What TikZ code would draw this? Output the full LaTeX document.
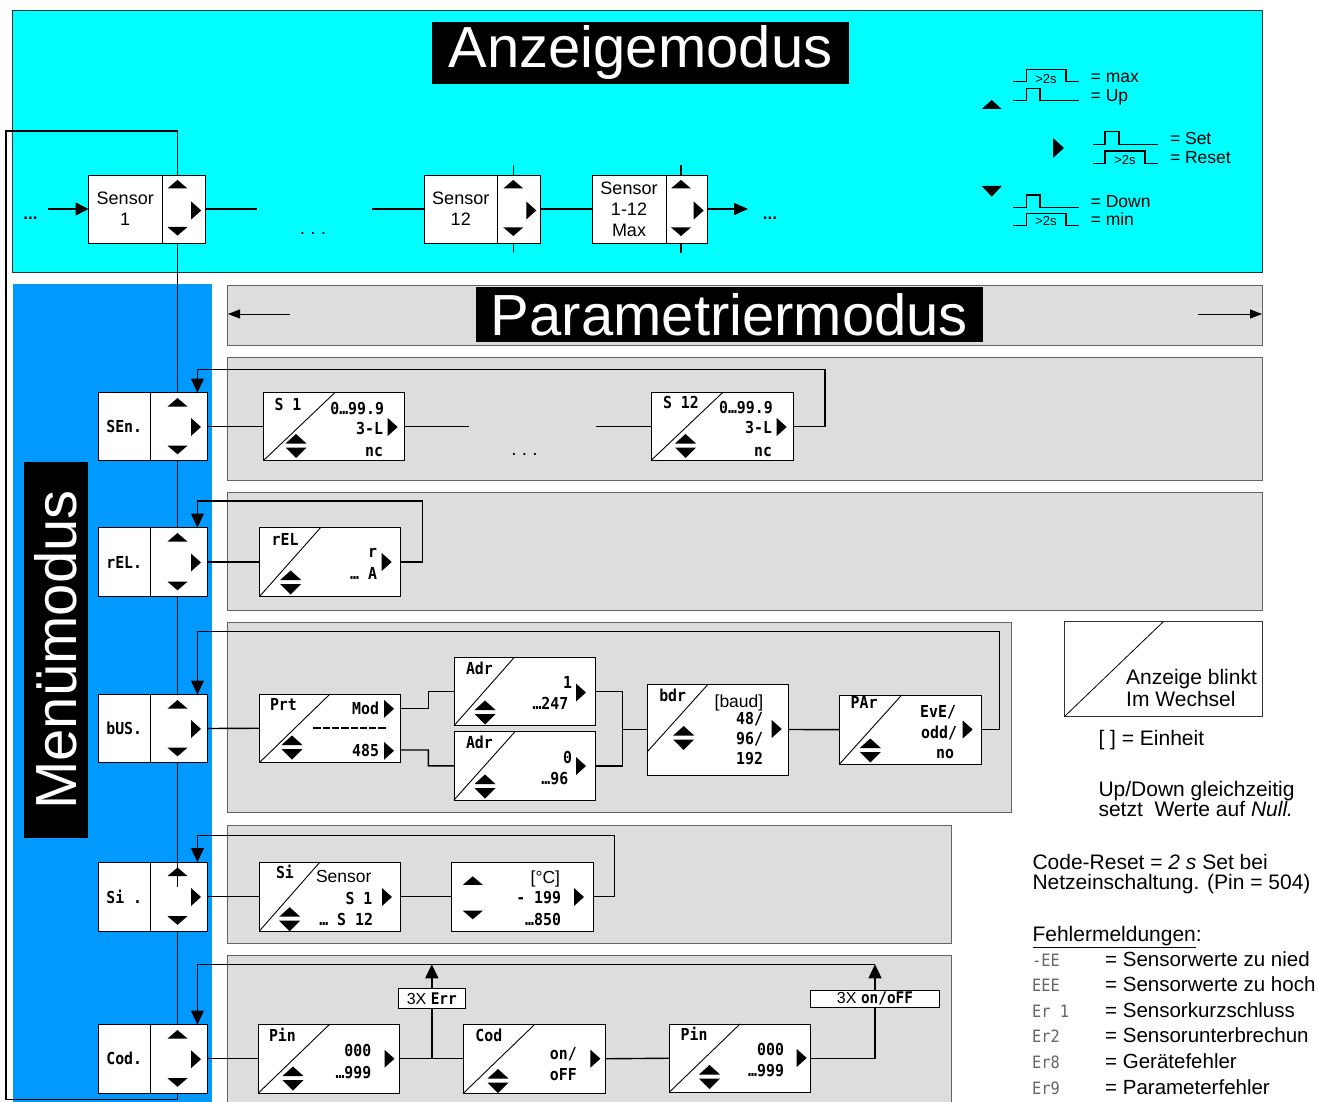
\documentclass[tikz,border=0pt]{standalone}
\usepackage{fontspec}
\setmainfont{Liberation Sans}
\newfontfamily\segf[FakeStretch=0.9]{DejaVu Sans Mono}
\usetikzlibrary{arrows.meta}
\definecolor{cyanbg}{RGB}{0,255,255}
\definecolor{bluebg}{RGB}{0,153,255}
\definecolor{graybg}{RGB}{221,221,221}
\definecolor{panelline}{RGB}{100,100,100}
\newcounter{tn}
\tikzset{
  box/.style={draw=black, line width=0.9pt, fill=white, inner sep=0pt, outer sep=0pt},
  conn/.style={line width=1.4pt},
  arrA/.style={-{Triangle[length=14pt,width=13pt]}},
  arrB/.style={-{Triangle[length=14pt,width=12pt]}},
  arrC/.style={-{Triangle[length=12pt,width=9pt]}},
  seg/.style={font=\segf\bfseries\fontsize{16.5}{16.5}\selectfont, inner sep=0pt, outer sep=0pt},
  txt/.style={font=\fontsize{17.5}{18}\selectfont, inner sep=0pt, outer sep=0pt},
  note/.style={font=\fontsize{21}{22}\selectfont, inner sep=0pt, anchor=base west},
  errt/.style={font=\fontsize{20.5}{22}\selectfont, inner sep=0pt, anchor=base west},
  errc/.style={font=\segf\fontsize{17}{17}\selectfont, text=black!60, inner sep=0pt, anchor=base west},
  panel/.style={fill=graybg, draw=panelline, line width=0.8pt},
  title/.style={fill=black, text=white, font=\fontsize{58}{60}\selectfont, inner sep=0pt},
  tup/.pic={\fill (-10,4.3) -- (10,4.3) -- (0,-4.3) -- cycle;},
  tdown/.pic={\fill (-10,-4.3) -- (10,-4.3) -- (0,4.3) -- cycle;},
  tright/.pic={\fill (-5,-9) -- (-5,9) -- (5,0) -- cycle;},
  tdbl/.pic={\fill (-10.5,-2) -- (10.5,-2) -- (0,-11.5) -- cycle; \fill (-10.5,2) -- (10.5,2) -- (0,12.5) -- cycle;},
}
\newcommand\bx[7][]{\node[box,minimum width={#5-#3},minimum height={#6-#4},#1] (#2) at ({(#3+#5)/2},{(#4+#6)/2}) {#7};}
\newcommand\pbx[6]{\bx{#1}{#2}{#3}{#4}{#5}{}\draw[line width=0.9pt] (#1.south west) -- (#6,#3);}
\newcommand\sg[3][base east]{\stepcounter{tn}\node[seg,anchor=#1] (tx\arabic{tn}) at (#2) {#3};}
\newcommand\tx[3][base west]{\stepcounter{tn}\node[txt,anchor=#1] (tx\arabic{tn}) at (#2) {#3};}
\newcommand\nt[2]{\stepcounter{tn}\node[note] (tx\arabic{tn}) at (#1) {#2};}
\newcommand\mbx[4]{%
  \bx[seg]{#1}{98.5}{#2}{150}{#3}{#4}%
  \bx{#1k}{150}{#2}{207.5}{#3}{}%
  \pic at (177.5,{#2+9.8}) {tup};%
  \pic at (196,{(#2+#3)/2+0.5}) {tright};%
  \pic at (177.5,{#3-10.5}) {tdown};}
\begin{document}
\begin{tikzpicture}[x=1pt,y=-1pt]
\useasboundingbox (0,0) rectangle (1318,1102);
\fill[white] (0,0) rectangle (1318,1102);
\begin{scope}
\clip (0,0) rectangle (1318,1102);
% ---------- top panel
\draw[fill=cyanbg,draw=black!80,line width=0.8pt] (12,10) rectangle (1262,272);
\node[title,minimum width=417,minimum height=62] (anz) at (640.5,53) {Anzeigemodus};
% legend
\fill (981.7,109) -- (1001.7,109) -- (991.7,100) -- cycle;
\fill (1053,138) -- (1053,158) -- (1064,148) -- cycle;
\fill (981.7,186) -- (1001.7,186) -- (991.7,196.7) -- cycle;
\begin{scope}[line width=1.2pt]
\draw (1013,81.7) -- (1026.7,81.7) -- (1026.7,69.7) -- (1066,69.7) -- (1066,81.7) -- (1078.7,81.7);
\draw (1013,100.7) -- (1026.7,100.7) -- (1026.7,88.3) -- (1040,88.3) -- (1040,100.7) -- (1078.7,100.7);
\draw (1093.3,144.3) -- (1105,144.3) -- (1105,131.7) -- (1119,131.7) -- (1119,144.3) -- (1158.3,144.3);
\draw (1093.3,163.3) -- (1105,163.3) -- (1105,151) -- (1145,151) -- (1145,163.3) -- (1158.3,163.3);
\draw (1013,207.3) -- (1026.7,207.3) -- (1026.7,195) -- (1040,195) -- (1040,207.3) -- (1078.7,207.3);
\draw (1013,225.7) -- (1026.7,225.7) -- (1026.7,213.3) -- (1066,213.3) -- (1066,225.7) -- (1078.7,225.7);
\end{scope}
\node[inner sep=0pt,font=\fontsize{13}{13}\selectfont] (g1) at (1046,79) {>2s};
\node[inner sep=0pt,font=\fontsize{13}{13}\selectfont] (g2) at (1125,160) {>2s};
\node[inner sep=0pt,font=\fontsize{13}{13}\selectfont] (g3) at (1046,221.5) {>2s};
\tx{1090.7,83}{= max}
\tx{1090.7,101.5}{= Up}
\tx{1170,144.5}{= Set}
\tx{1170,163.5}{= Reset}
\tx{1090.7,208}{= Down}
\tx{1090.7,226}{= min}
% sensor row
\node[txt,anchor=base,font=\bfseries\fontsize{17}{17}\selectfont] (dl) at (30.5,219.5) {...};
\node[txt,anchor=base,font=\bfseries\fontsize{17}{17}\selectfont] (dr) at (770,220) {...};
\node[txt,anchor=base,font=\fontsize{19}{19}\selectfont] (dm) at (313,235) {.\ .\ .};
\bx[txt,align=center,font=\fontsize{18}{21}\selectfont]{s1}{88.5}{175}{162}{243}{Sensor\\1}
\bx{s1k}{162}{175}{205}{243}{}
\pic at (177.5,184.2) {tup}; \pic at (196.2,210.5) {tright}; \pic at (177.5,231.3) {tdown};
\bx[txt,align=center,font=\fontsize{18}{21}\selectfont]{s12}{424}{175}{497.5}{243}{Sensor\\12}
\bx{s12k}{497.5}{175}{540.5}{243}{}
\pic at (513.3,184.2) {tup}; \pic at (531.3,210.5) {tright}; \pic at (513.3,231.7) {tdown};
\bx[txt,align=center,font=\fontsize{18}{21}\selectfont]{smax}{592}{175}{666}{243}{Sensor\\1-12\\Max}
\bx{smaxk}{666}{175}{707.5}{243}{}
\pic at (681,184.2) {tup}; \pic at (698.7,210.5) {tright}; \pic at (681,231.7) {tdown};
\coordinate (l0) at (47.5,209);
\coordinate (r1) at (256.5,209);
\coordinate (l12) at (372,209);
\coordinate (rmax) at (748,209);
\draw[conn,-{Triangle[length=13pt,width=13pt]}] (l0) -- (s1.west);
\draw[conn] (s1k.east) -- (r1);
\draw[conn] (l12) -- (s12.west);
\draw[conn] (s12k.east) -- (smax.west);
\draw[conn,arrB] (smaxk.east) -- (rmax);
\coordinate (t12) at (513.3,165); \coordinate (b12) at (513.3,253);
\coordinate (tm) at (681,165); \coordinate (bm) at (681,253);
\draw[conn] (t12) -- (t12 |- s12k.north);
\draw[conn] (b12) -- (b12 |- s12k.south);
\draw[conn] (tm) -- (tm |- smaxk.north);
\draw[conn] (bm) -- (bm |- smaxk.south);
% ---------- lower part
\fill[bluebg] (13,284) rectangle (212,1115);
\node[title,rotate=90,minimum width=376,minimum height=64] (menu) at (56,650) {Menümodus};
\draw[panel] (227,285) rectangle (1262,345);
\node[title,minimum width=507,minimum height=55] (ptitle) at (729.5,314.5) {Parametriermodus};
\coordinate (pl1) at (290,314); \coordinate (pl2) at (228,314);
\coordinate (pr1) at (1198,314); \coordinate (pr2) at (1262,314);
\draw[line width=1pt,arrC] (pl1) -- (pl2);
\draw[line width=1pt,arrC] (pr1) -- (pr2);
\draw[panel] (227,357) rectangle (1262,480);
\draw[panel] (227,492) rectangle (1262,610);
\draw[panel] (227,622) rectangle (1011,812);
\draw[panel] (227,825) rectangle (951,943);
\draw[panel] (227,955) rectangle (951,1115);
% menu boxes
\mbx{msen}{392.5}{460.5}{SEn.}
\mbx{mrel}{527.5}{596.5}{rEL.}
\mbx{mbus}{694.5}{762.5}{bUS.}
\mbx{msi}{862}{931}{Si .}
\mbx{mcod}{1024.5}{1093}{Cod.}
\coordinate (vx) at (177.5,0);
\coordinate (loopx) at (197.4,0);
\coordinate (lpA) at (177.5,1099.5); \coordinate (lpB) at (6,1099.5);
\coordinate (lpC) at (6,131); \coordinate (lpD) at (177.5,131);
\coordinate (siin) at (177.5,887);
\draw[conn] (mcodk.south -| vx) -- (lpA) -- (lpB) -- (lpC) -- (lpD) -- (s1k.north -| vx);
\draw[conn] (s1k.south -| vx) -- (msenk.north -| vx);
\draw[conn] (msenk.south -| vx) -- (mrelk.north -| vx);
\draw[conn] (mrelk.south -| vx) -- (mbusk.north -| vx);
\draw[conn] (mbusk.south -| vx) -- (siin);
\draw[conn] (msik.south -| vx) -- (mcodk.north -| vx);
% SEn row
\pbx{ps1}{263.5}{392.5}{404.5}{460.5}{335}
\sg[base west]{274.5,410}{S 1}
\sg{384,414}{0…99.9}
\sg{383,434}{3-L}
\sg{383,456}{nc}
\pic at (392.7,427) {tright}; \pic at (296,445.5) {tdbl};
\pbx{ps12}{651}{392.5}{793.3}{460.5}{722.7}
\sg[base west]{663,408}{S 12}
\sg{772.7,413}{0…99.9}
\sg{772,433}{3-L}
\sg{772,456}{nc}
\pic at (781.7,427) {tright}; \pic at (685.5,445.5) {tdbl};
\coordinate (c1) at (469.3,426.5); \coordinate (c2) at (596,426.5);
\draw[conn] (msenk.east) -- (ps1.west);
\draw[conn] (ps1.east) -- (c1);
\draw[conn] (c2) -- (ps12.west);
\node[txt,anchor=base,font=\fontsize{19}{19}\selectfont] (dm2) at (524.5,455) {.\ .\ .};
\coordinate (senR) at (825,369.3);
\draw[conn,arrA] (ps12.east) -| (senR) -| (msenk.north -| loopx);
% rEL row
\pbx{prel}{259.5}{527.5}{400.7}{596.5}{320.7}
\sg[base west]{271.7,545.5}{rEL}
\sg{377,557}{r}
\sg{377,579}{… A}
\pic at (386.7,562) {tright}; \pic at (290.7,582) {tdbl};
\draw[conn] (mrelk.east) -- (prel.west);
\coordinate (relR) at (422.3,501);
\draw[conn,arrA] (prel.east) -| (relR) -| (mrelk.north -| loopx);
% bUS row
\pbx{pprt}{259.5}{694}{400.7}{762.5}{330}
\sg[base west]{270,710.5}{Prt}
\sg{379,714.5}{Mod}
\draw[line width=2.2pt,dash pattern=on 7.3pt off 2pt] (313.3,727.7) -- (387.7,727.7);
\sg{379,756}{485}
\pic at (389,708.8) {tright}; \pic at (389,750.8) {tright}; \pic at (292,747) {tdbl};
\pbx{padr1}{454}{657.7}{595}{725.7}{514}
\sg[base west]{466,674}{Adr}
\sg{572,688}{1}
\sg{568.3,709.5}{…247}
\pic at (581,692.5) {tright}; \pic at (485,712) {tdbl};
\pbx{padr2}{454}{731.7}{595}{800}{515}
\sg[base west]{466,748}{Adr}
\sg{572,763}{0}
\sg{568.3,784}{…96}
\pic at (581,766) {tright}; \pic at (485,786) {tdbl};
\bx{pbdr}{647.3}{684}{788.3}{775}{}
\draw[line width=0.9pt] (647.3,751.7) -- (708.3,684);
\sg[base west]{659.3,701.5}{bdr}
\tx[base east]{763.3,707.5}{[baud]}
\sg{763,724.5}{48/}
\sg{763,744.5}{96/}
\sg{763,764.5}{192}
\pic at (776.7,729) {tright}; \pic at (683.7,737.5) {tdbl};
\pbx{ppar}{839.3}{695}{981.7}{764.3}{901.7}
\sg[base west]{850.7,708.5}{PAr}
\sg{956,717}{EvE/}
\sg{957,738.5}{odd/}
\sg{954,758.5}{no}
\pic at (967.7,729.5) {tright}; \pic at (870.3,750) {tdbl};
\draw[conn] (mbusk.east) -- (pprt.west);
\coordinate (pm) at (400.7,708.3); \coordinate (p4) at (400.7,750);
\coordinate (j1) at (428.3,691.7); \coordinate (j2) at (428.3,765.85);
\coordinate (j3) at (622.7,729.5);
\draw[conn] (pm) -| (j1) -- (padr1.west);
\draw[conn] (p4) -| (j2) -- (padr2.west);
\draw[conn] (padr1.east) -| (j3);
\draw[conn] (padr2.east) -| (j3) -- (pbdr.west);
\draw[conn] (pbdr.east) -- (ppar.west);
\coordinate (busR) at (999.3,631.7);
\draw[conn,arrA] (ppar.east) -| (busR) -| (mbusk.north -| loopx);
% Si row
\pbx{psis}{259.4}{862}{400.6}{931}{320}
\sg[base west]{276,878.5}{Si}
\tx{316,882}{Sensor}
\sg{372.4,904}{S 1}
\sg{373,925.7}{… S 12}
\pic at (387,897) {tright}; \pic at (289.7,918.7) {tdbl};
\bx{pdeg}{451.6}{862}{593.4}{931}{}
\pic at (472.8,880.6) {tup}; \pic at (472.8,915) {tdown};
\tx[base east]{560,883}{[°C]}
\sg{561,903.5}{- 199}
\sg{561,925.7}{…850}
\pic at (579,897) {tright};
\draw[conn] (msik.east) -- (psis.west);
\draw[conn] (psis.east) -- (pdeg.west);
\coordinate (siR) at (614.5,835.3);
\draw[conn,arrA] (pdeg.east) -| (siR) -| (msik.north -| loopx);
% Cod row
\pbx{ppin1}{258.4}{1024.5}{399.7}{1093}{329.4}
\sg[base west]{269,1041}{Pin}
\sg{371.3,1056}{000}
\sg{371.3,1078}{…999}
\pic at (389.5,1058.7) {tright}; \pic at (293,1078) {tdbl};
\pbx{pcod}{463.6}{1024.5}{605.6}{1093}{534.6}
\sg[base west]{475.4,1041.5}{Cod}
\sg{576.8,1059}{on/}
\sg{576.8,1080}{oFF}
\pic at (595.4,1058.7) {tright}; \pic at (498,1080.5) {tdbl};
\pbx{ppin2}{669}{1024}{810.7}{1092.5}{740}
\sg[base west]{680.7,1040.5}{Pin}
\sg{784,1055.5}{000}
\sg{784,1076.5}{…999}
\pic at (801.7,1058) {tright}; \pic at (709.5,1076.5) {tdbl};
\bx[txt,font=\fontsize{16}{16}\selectfont]{perr}{398.3}{988.8}{465.3}{1008.4}{3X {\segf\bfseries Err}}
\bx[txt,font=\fontsize{16}{16}\selectfont]{ponoff}{810.7}{990}{939.3}{1007.7}{3X\ {\segf\bfseries on/oFF}}
\draw[conn] (mcodk.east) -- (ppin1.west);
\draw[conn] (ppin1.east) -- (pcod.west);
\draw[conn] (pcod.east) -- (ppin2.west);
\draw[conn] (perr.south |- ppin1.east) -- (perr.south);
\coordinate (errT) at (431.8,964.3);
\draw[conn,arrA] (perr.north) -- (errT);
\draw[conn] (ppin2.east) -| (ponoff.south);
\coordinate (codR) at (875,964.3);
\draw[conn,arrA] (ponoff.north) -- (codR);
\draw[conn,arrA] (codR) -| (mcodk.north -| loopx);
% ---------- right notes
\bx[draw=black!80,line width=0.8pt]{pblink}{1064.3}{621.7}{1262.7}{716.7}{}
\draw[line width=0.8pt] (pblink.south west) -- (1163.3,621.7);
\nt{1126,684}{Anzeige blinkt}
\nt{1126,706.5}{Im Wechsel}
\nt{1098.3,745.5}{[ ] = Einheit}
\nt{1098.3,796}{Up/Down gleichzeitig}
\nt{1098.3,816.5}{setzt\ \ Werte auf \textit{Null.}}
\nt{1032.3,869}{Code-Reset = \textit{2 s} Set bei}
\nt{1032.3,889.5}{Netzeinschaltung. (Pin = 504)}
\nt{1032.3,941}{\underline{Fehlermeldungen}:}
\node[errc] (e1) at (1032,966) {-EE};
\node[errc] (e2) at (1032,991.6) {EEE};
\node[errc] (e3) at (1032,1017.2) {Er 1};
\node[errc] (e4) at (1032,1042.8) {Er2};
\node[errc] (e5) at (1032,1068.4) {Er8};
\node[errc] (e6) at (1032,1094) {Er9};
\node[errt] (f1) at (1105,966) {= Sensorwerte zu nied};
\node[errt] (f2) at (1105,991.6) {= Sensorwerte zu hoch};
\node[errt] (f3) at (1105,1017.2) {= Sensorkurzschluss};
\node[errt] (f4) at (1105,1042.8) {= Sensorunterbrechun};
\node[errt] (f5) at (1105,1068.4) {= Gerätefehler};
\node[errt] (f6) at (1105,1094) {= Parameterfehler};
\end{scope}
\end{tikzpicture}
\end{document}
